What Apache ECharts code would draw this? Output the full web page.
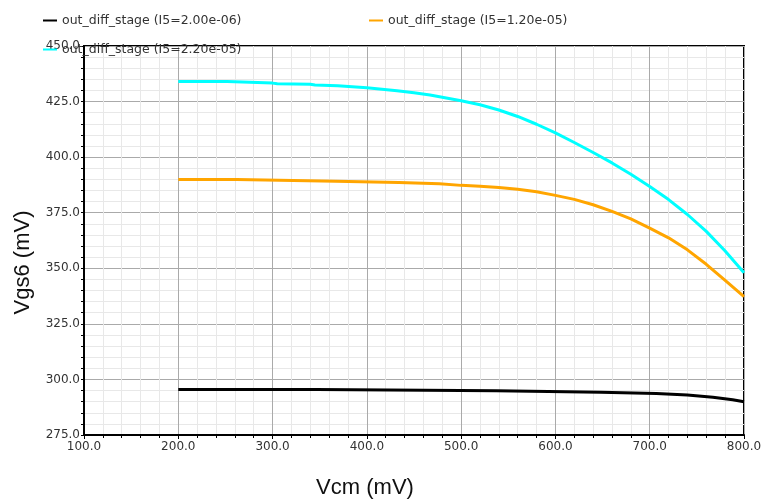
<!DOCTYPE html>
<html>
<head>
<meta charset="utf-8">
<script src="https://cdn.jsdelivr.net/npm/echarts@6/dist/echarts.min.js"></script>
<style>
  html, body { margin: 0; padding: 0; background: #fff; }
  #chart { width: 766px; height: 499px; }
</style>
</head>
<body>
<div id="chart"></div>
<script>
// series names (legend)
const seriesNames = [
  'out_diff_stage (I5=2.00e-06)',
  'out_diff_stage (I5=1.20e-05)',
  'out_diff_stage (I5=2.20e-05)'
]
const seriesColors = ['#000000', '#ffa500', '#00ffff']

// I5 = 2.00e-06 (black)
const blackX = [200, 347, 348, 537, 538, 648, 649, 707, 708, 740, 767, 788, 800]
const blackY = [295.5, 295.5, 295.0, 294.9, 294.3, 294.2, 293.8, 293.7, 293.2, 293.0, 292.0, 290.9, 290.0]

// I5 = 1.20e-05 (orange)
const orangeX = [200, 262, 263, 367, 368, 434, 435, 477, 478, 500, 520, 540, 560, 580, 600, 620, 640, 660, 680, 700, 720, 740, 760, 780, 800]
const orangeY = [389.9, 389.9, 389.3, 389.2, 388.7, 388.6, 388.1, 388.0, 387.6, 387.3, 386.9, 386.3, 385.6, 384.4, 382.8, 381.0, 378.6, 375.6, 372.2, 368.1, 363.7, 358.3, 351.8, 344.6, 337.2]

// I5 = 2.20e-05 (cyan)
const cyanX = [200, 252, 253, 300, 305, 340, 345, 369, 400, 432, 450, 467, 500, 520, 540, 560, 580, 600, 620, 640, 660, 680, 700, 720, 740, 760, 780, 800]
const cyanY = [434.0, 434.0, 433.4, 433.3, 433.0, 432.8, 432.5, 432.1, 431.2, 429.9, 429.0, 428.0, 425.4, 423.6, 421.2, 418.3, 414.8, 410.9, 406.6, 402.1, 397.4, 392.3, 386.8, 380.9, 374.2, 366.6, 357.8, 348.0]

const xs = [blackX, orangeX, cyanX]
const ys = [blackY, orangeY, cyanY]

const chart = echarts.init(document.getElementById('chart'))

const legendText = { fontFamily: 'DejaVu Sans', fontSize: 12.5, color: '#333' }
const mkLegend = (name, left, top) => ({
  data: [name],
  left: left,
  top: top,
  icon: 'rect',
  itemWidth: 14,
  itemHeight: 2,
  textStyle: legendText,
  selectedMode: false
})

const option = {
  animation: false,
  legend: [
    mkLegend(seriesNames[0], 38, 9),
    mkLegend(seriesNames[1], 364, 9),
    mkLegend(seriesNames[2], 38, 38)
  ],
  grid: {
    left: 84, right: 22, top: 46, bottom: 64,
    outerBoundsMode: 'none',
    containLabel: false,
    show: true, borderColor: '#000', borderWidth: 2
  },
  xAxis: {
    type: 'value',
    min: 100, max: 800, interval: 100,
    name: 'Vcm (mV)',
    nameLocation: 'middle',
    nameGap: 42,
    nameTextStyle: { fontFamily: 'Liberation Sans', fontSize: 22, color: '#111', padding: [0, 98, 0, 0] },
    axisLine: { lineStyle: { color: '#000', width: 2 } },
    axisTick: { length: 4, lineStyle: { color: '#000' } },
    minorTick: { show: true, splitNumber: 5, length: 3, lineStyle: { color: '#000' } },
    axisLabel: { fontFamily: 'DejaVu Sans', fontSize: 12, color: '#333', margin: 6, formatter: v => v.toFixed(1) },
    splitLine: { lineStyle: { color: '#aaa', width: 1 } },
    minorSplitLine: { show: true, lineStyle: { color: '#e8e8e8', width: 1 } }
  },
  yAxis: {
    type: 'value',
    min: 275, max: 450, interval: 25,
    name: 'Vgs6 (mV)',
    nameLocation: 'middle',
    nameGap: 50,
    nameTextStyle: { fontFamily: 'Liberation Sans', fontSize: 22, color: '#111', padding: [0, 44, 0, 0] },
    axisLine: { lineStyle: { color: '#000', width: 2 } },
    axisTick: { length: 3, lineStyle: { color: '#000' } },
    minorTick: { show: true, splitNumber: 5, length: 3, lineStyle: { color: '#000' } },
    axisLabel: { fontFamily: 'DejaVu Sans', fontSize: 12, color: '#333', margin: 4, formatter: v => v.toFixed(1) },
    splitLine: { lineStyle: { color: '#aaa', width: 1 } },
    minorSplitLine: { show: true, lineStyle: { color: '#e8e8e8', width: 1 } }
  },
  series: seriesNames.map((name, i) => ({
    name: name,
    type: 'line',
    showSymbol: false,
    symbol: 'none',
    color: seriesColors[i],
    lineStyle: { color: seriesColors[i], width: 3 },
    data: xs[i].map((x, j) => [x, ys[i][j]])
  }))
}

chart.setOption(option)
</script>
</body>
</html>
